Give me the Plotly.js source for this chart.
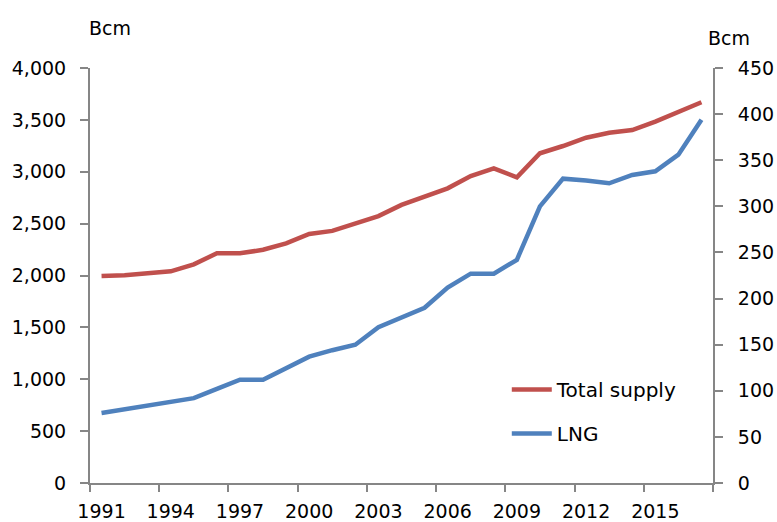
<!DOCTYPE html>
<html>
<head>
<meta charset="utf-8">
<script src="https://cdn.plot.ly/plotly-3.0.1.min.js"></script>
<style>html,body{margin:0;padding:0;background:#fff;}#chart{width:777px;height:522px;}</style>
</head>
<body>
<div id="chart"></div>
<script>
const years = [1991,1992,1993,1994,1995,1996,1997,1998,1999,2000,2001,2002,2003,2004,2005,2006,2007,2008,2009,2010,2011,2012,2013,2014,2015,2016,2017];
const totalSupply = [1995,2002,2021,2040,2108,2214,2214,2248,2310,2400,2430,2500,2573,2680,2760,2840,2959,3033,2946,3178,3248,3328,3376,3402,3483,3576,3670];
const lng = [76,80,83,87,92,102,112,112,124,137,144,150,169,179,190,212,227,227,242,300,330,328,325,334,338,356,394];
const xTickLabels = ['1991','1994','1997','2000','2003','2006','2009','2012','2015'];
const xTickVals = xTickLabels.map(Number);
const leftTicks = [0,500,1000,1500,2000,2500,3000,3500,4000];
const rightTicks = [0,50,100,150,200,250,300,350,400,450];

const font = {family: 'DejaVu Sans, Verdana, sans-serif', size: 19, color: '#000'};
const legendFont = {family: 'DejaVu Sans, Verdana, sans-serif', size: 20, color: '#000'};
const axisColor = '#868686';

const traces = [
  {x: years, y: totalSupply, name: 'Total supply', type: 'scatter', mode: 'lines',
   line: {color: '#C0504D', width: 4.5}, yaxis: 'y', legendgroup: 'a'},
  {x: years, y: lng, name: 'LNG', type: 'scatter', mode: 'lines',
   line: {color: '#4F81BD', width: 4.5}, yaxis: 'y2', legendgroup: 'b'}
];

const layout = {
  width: 777, height: 522,
  margin: {l: 90, r: 64, t: 68, b: 39},
  paper_bgcolor: '#fff', plot_bgcolor: '#fff',
  font: font,
  showlegend: true,
  legend: {x: 0.669, y: 0.272, xanchor: 'left', yanchor: 'top', bgcolor: 'rgba(0,0,0,0)',
           traceorder: 'grouped', tracegroupgap: 15, itemwidth: 40, font: legendFont},
  xaxis: {
    range: [1990.5, 2017.5], showgrid: false, zeroline: false,
    showline: true, linecolor: axisColor, linewidth: 2,
    tickmode: 'array', tickvals: xTickVals, ticktext: xTickLabels,
    ticks: '', ticklabelstandoff: 10,
    minor: {tick0: 1990.5, dtick: 3, ticks: 'outside', ticklen: 7, tickcolor: axisColor, tickwidth: 2, showgrid: false}
  },
  yaxis: {
    range: [0, 4000], showgrid: false, zeroline: false,
    showline: true, linecolor: axisColor, linewidth: 2,
    tickmode: 'array', tickvals: leftTicks, ticktext: leftTicks.map(v => v.toLocaleString('en-US')),
    ticks: 'outside', ticklen: 8, tickcolor: axisColor, tickwidth: 2, ticklabelstandoff: 10
  },
  yaxis2: {
    range: [0, 450], overlaying: 'y', side: 'right', showgrid: false, zeroline: false,
    showline: true, linecolor: axisColor, linewidth: 2,
    tickmode: 'array', tickvals: rightTicks, ticktext: rightTicks.map(String),
    ticks: 'outside', ticklen: 8, tickcolor: axisColor, tickwidth: 2, ticklabelstandoff: 11
  },
  annotations: [
    {text: 'Bcm', xref: 'paper', yref: 'paper', x: (110-90)/623, y: (483-28)/415, xanchor: 'center', yanchor: 'middle', showarrow: false, font: font},
    {text: 'Bcm', xref: 'paper', yref: 'paper', x: (729-90)/623, y: (483-38)/415, xanchor: 'center', yanchor: 'middle', showarrow: false, font: font}
  ]
};

Plotly.newPlot('chart', traces, layout, {displayModeBar: false, staticPlot: true});
</script>
</body>
</html>
